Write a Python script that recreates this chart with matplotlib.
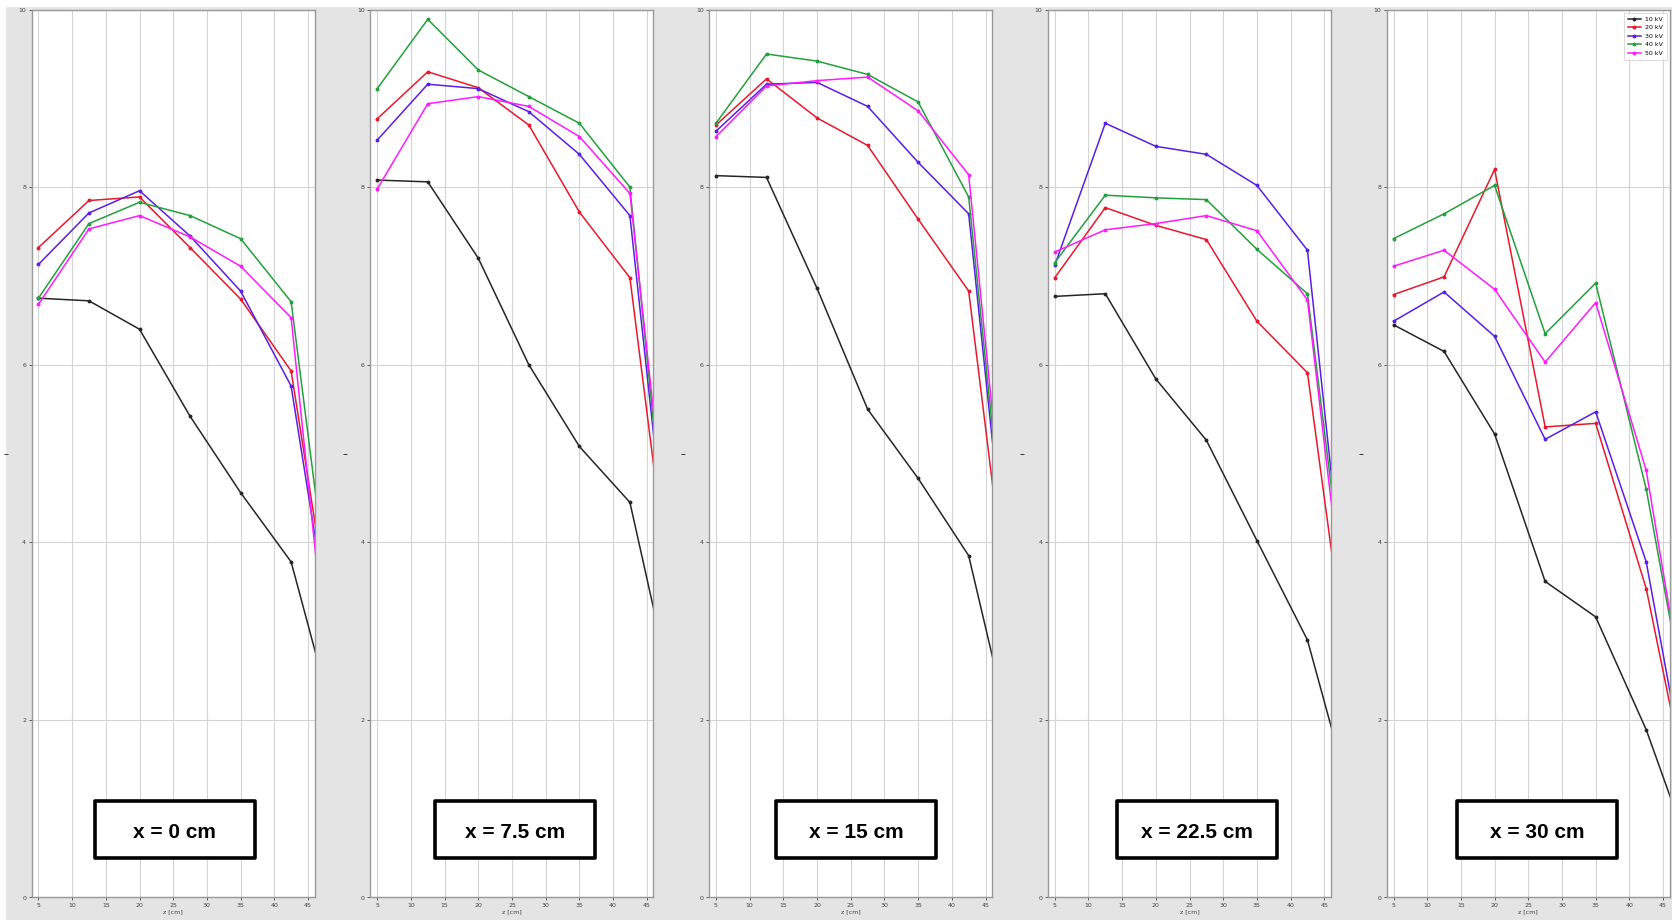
import numpy as np
import matplotlib
matplotlib.use("Agg")
import matplotlib.pyplot as plt
from matplotlib.patches import Rectangle
# ----------------------------------------------------------------------------------------------------------------------

# Measurement Positions Along z [cm]
z_pos = [5, 12.5, 20, 27.5, 35, 42.5, 50]

voltages = ["10 kV", "20 kV", "30 kV", "40 kV", "50 kV"]
line_colors = ["#262626", "#e8192c", "#5a1ee6", "#22a03c", "#ff1aff"]
panel_titles = ["x = 0 cm", "x = 7.5 cm", "x = 15 cm", "x = 22.5 cm", "x = 30 cm"]

# Panel 1 | x = 0 cm
x00_10kv = [6.75, 6.72, 6.40, 5.42, 4.56, 3.78, 1.66]
x00_20kv = [7.32, 7.85, 7.89, 7.32, 6.74, 5.93, 2.31]
x00_30kv = [7.13, 7.71, 7.96, 7.45, 6.83, 5.76, 2.18]
x00_40kv = [6.75, 7.59, 7.83, 7.68, 7.42, 6.71, 2.23]
x00_50kv = [6.68, 7.53, 7.68, 7.44, 7.11, 6.53, 1.02]

# Panel 2 | x = 7.5 cm
x75_10kv = [8.08, 8.06, 7.20, 6.00, 5.08, 4.45, 1.90]
x75_20kv = [8.77, 9.30, 9.12, 8.70, 7.72, 6.98, 2.48]
x75_30kv = [8.53, 9.16, 9.11, 8.85, 8.37, 7.68, 2.41]
x75_40kv = [9.11, 9.89, 9.32, 9.02, 8.72, 8.00, 2.32]
x75_50kv = [7.98, 8.94, 9.02, 8.91, 8.57, 7.93, 2.68]

# Panel 3 | x = 15 cm
x15_10kv = [8.13, 8.11, 6.86, 5.50, 4.72, 3.85, 1.43]
x15_20kv = [8.70, 9.22, 8.78, 8.47, 7.64, 6.83, 2.22]
x15_30kv = [8.63, 9.16, 9.18, 8.91, 8.28, 7.70, 2.24]
x15_40kv = [8.72, 9.50, 9.42, 9.27, 8.96, 7.89, 2.34]
x15_50kv = [8.57, 9.14, 9.20, 9.24, 8.86, 8.14, 2.44]

# Panel 4 | x = 22.5 cm
x225_10kv = [6.77, 6.80, 5.84, 5.15, 4.02, 2.90, 0.82]
x225_20kv = [6.98, 7.77, 7.57, 7.41, 6.49, 5.91, 1.69]
x225_30kv = [7.12, 8.72, 8.46, 8.37, 8.02, 7.29, 1.95]
x225_40kv = [7.15, 7.91, 7.88, 7.86, 7.30, 6.80, 2.19]
x225_50kv = [7.27, 7.52, 7.59, 7.68, 7.51, 6.73, 1.89]

# Panel 5 | x = 30 cm
x30_10kv = [6.45, 6.15, 5.22, 3.56, 3.16, 1.89, 0.30]
x30_20kv = [6.79, 6.99, 8.20, 5.30, 5.34, 3.48, 0.69]
x30_30kv = [6.49, 6.82, 6.32, 5.16, 5.47, 3.78, 0.67]
x30_40kv = [7.42, 7.70, 8.02, 6.35, 6.92, 4.60, 1.49]
x30_50kv = [7.11, 7.29, 6.85, 6.03, 6.70, 4.81, 1.40]

panels = [
    [x00_10kv, x00_20kv, x00_30kv, x00_40kv, x00_50kv],
    [x75_10kv, x75_20kv, x75_30kv, x75_40kv, x75_50kv],
    [x15_10kv, x15_20kv, x15_30kv, x15_40kv, x15_50kv],
    [x225_10kv, x225_20kv, x225_30kv, x225_40kv, x225_50kv],
    [x30_10kv, x30_20kv, x30_30kv, x30_40kv, x30_50kv],
]
# ----------------------------------------------------------------------------------------------------------------------

W, H = 1672, 920
fig = plt.figure(figsize=(W / 100 + 0.001, H / 100 + 0.001), dpi=100)
fig.patch.set_facecolor("#e4e4e4")

# Thin White Border Of The Screenshot (Top & Left)
fig.add_artist(Rectangle((0, 1 - 6 / H), 1, 6 / H, transform=fig.transFigure, color="white", zorder=0))
fig.add_artist(Rectangle((0, 0), 5 / W, 1, transform=fig.transFigure, color="white", zorder=0))

ax_left0, ax_step, ax_w = 31.7, 338.75, 283
ax_top, ax_bot = 9.7, 897.5

box_x0, box_step, box_w = 174.5, 340.7, 160
box_top, box_h = 801, 57

for i, series in enumerate(panels):
    ax = fig.add_axes([(ax_left0 + i * ax_step) / W, 1 - ax_bot / H, ax_w / W, (ax_bot - ax_top) / H])
    ax.set_facecolor("white")

    for vals, lab, col in zip(series, voltages, line_colors):
        ax.plot(z_pos, vals, color=col, lw=1.1, marker="o", ms=1.8, label=lab)

    ax.set_xlim(4, 46)
    ax.set_ylim(0, 10)
    ax.set_xticks(np.arange(5, 46, 5))
    ax.set_yticks(np.arange(0, 11, 2))
    ax.grid(True, color="#d4d4d4", lw=0.8)
    ax.set_axisbelow(True)

    ax.tick_params(labelsize=4.5, colors="#444444", length=2.5, width=0.6, pad=1.5)
    for sp in ax.spines.values():
        sp.set_color("#999999")
        sp.set_linewidth(1.0)

    ax.set_xlabel("z [cm]", fontsize=4.5, color="#444444", labelpad=1)
    ax.set_ylabel("–", fontsize=7, color="#111111", labelpad=9, rotation=0, va="center")

    if i == len(panels) - 1:
        leg = ax.legend(loc="upper right", fontsize=4.5, handlelength=2.2, labelspacing=0.5,
                        borderpad=0.6, handletextpad=0.6, frameon=True, fancybox=False)
        leg.get_frame().set_edgecolor("#cccccc")
        leg.get_frame().set_linewidth(0.6)

    # Position Label Box
    cx = box_x0 + i * box_step
    fig.add_artist(Rectangle(((cx - box_w / 2) / W, 1 - (box_top + box_h) / H), box_w / W, box_h / H,
                             transform=fig.transFigure, facecolor="white", edgecolor="black",
                             lw=2.6, joinstyle="round", zorder=5))
    fig.text(cx / W, 1 - (box_top + box_h / 2 + 3) / H, panel_titles[i], ha="center", va="center",
             fontsize=15, fontweight="bold", family="Liberation Sans", zorder=6)

fig.savefig("out.png", dpi=100, facecolor=fig.get_facecolor())
